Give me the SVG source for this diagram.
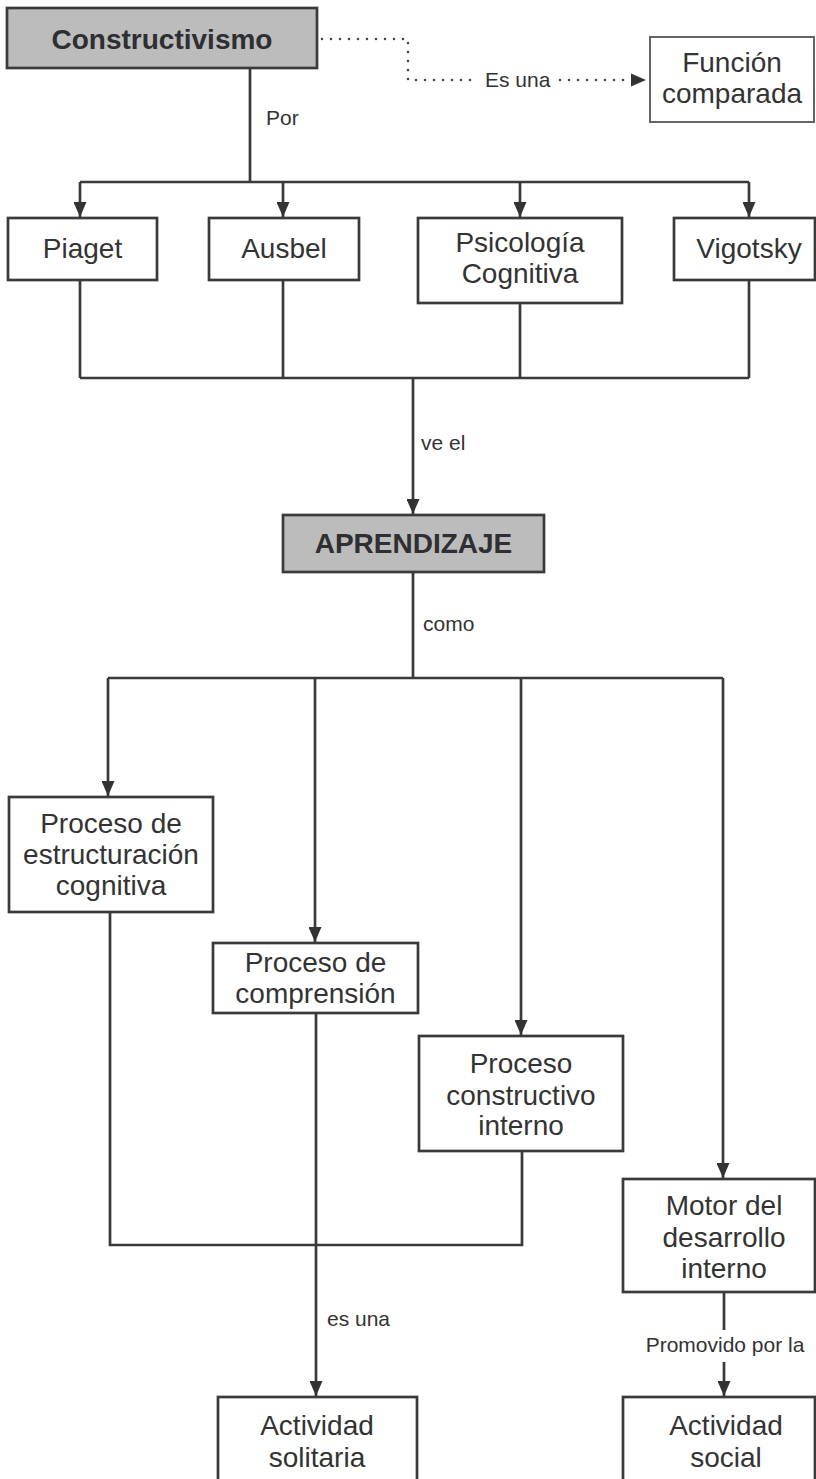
<svg xmlns="http://www.w3.org/2000/svg" width="816" height="1479" viewBox="0 0 816 1479">
<defs>
<style>
.box{fill:#ffffff;stroke:#3a3a3a;stroke-width:2.7}
.main{fill:#bcbcbc;stroke:#3a3a3a;stroke-width:2.7}
.thin{fill:#ffffff;stroke:#555555;stroke-width:1.8}
.t{font-family:"Liberation Sans",Arial,sans-serif;font-size:28px;fill:#333333;text-anchor:middle}
.b{font-weight:bold;fill:#2e2e33}
.lbl{font-family:"Liberation Sans",Arial,sans-serif;font-size:21px;fill:#333333}
.ln{fill:none;stroke:#3a3a3a;stroke-width:2.7}
.dot{fill:none;stroke:#444444;stroke-width:2.6;stroke-dasharray:0 9;stroke-linecap:round}
</style>
<marker id="ah" viewBox="0 0 15 13" refX="15" refY="6.5" markerWidth="15" markerHeight="13" markerUnits="userSpaceOnUse" orient="auto">
<path d="M0,0 L15,6.5 L0,13 z" fill="#333333"/>
</marker>
</defs>
<rect width="816" height="1479" fill="#ffffff"/>
<g id="connectors">
<path class="dot" d="M322,39 H408 V80 H478"/>
<path class="dot" d="M560,80 H632"/>
<path d="M631,73.5 L646,80 L631,86.5 z" fill="#333333"/>
<path class="ln" d="M250,68 V182"/>
<path class="ln" d="M80,182 H749"/>
<path class="ln" d="M80,182 V217" marker-end="url(#ah)"/>
<path class="ln" d="M283,182 V217" marker-end="url(#ah)"/>
<path class="ln" d="M520,182 V217" marker-end="url(#ah)"/>
<path class="ln" d="M749,182 V217" marker-end="url(#ah)"/>
<path class="ln" d="M80,280 V378"/>
<path class="ln" d="M283,280 V378"/>
<path class="ln" d="M520,303 V378"/>
<path class="ln" d="M749,280 V378"/>
<path class="ln" d="M80,378 H749"/>
<path class="ln" d="M413,378 V514" marker-end="url(#ah)"/>
<path class="ln" d="M413,572 V678"/>
<path class="ln" d="M108,678 H723"/>
<path class="ln" d="M108,678 V796" marker-end="url(#ah)"/>
<path class="ln" d="M315,678 V942" marker-end="url(#ah)"/>
<path class="ln" d="M521,678 V1035" marker-end="url(#ah)"/>
<path class="ln" d="M723,678 V1178" marker-end="url(#ah)"/>
<path class="ln" d="M110,912 V1245 H522 V1151"/>
<path class="ln" d="M316,1013 V1396" marker-end="url(#ah)"/>
<path class="ln" d="M724,1292 V1330"/>
<path class="ln" d="M724,1362 V1396" marker-end="url(#ah)"/>
<text class="lbl" x="266" y="125">Por</text>
<text class="lbl" x="485" y="87">Es una</text>
<text class="lbl" x="421" y="450">ve el</text>
<text class="lbl" x="423" y="631">como</text>
<text class="lbl" x="327" y="1326">es una</text>
<text class="lbl" x="725" y="1352" text-anchor="middle">Promovido por la</text>
</g>
<g id="constructivismo">
<rect class="main" x="7" y="8" width="310" height="60"/>
<text class="t b" x="162" y="49">Constructivismo</text>
</g>
<g id="funcion">
<rect class="thin" x="650" y="37" width="164" height="85"/>
<text class="t" x="732" y="72">Función</text>
<text class="t" x="732" y="103">comparada</text>
</g>
<g id="piaget">
<rect class="box" x="8" y="218" width="149" height="62"/>
<text class="t" x="82.5" y="258">Piaget</text>
</g>
<g id="ausbel">
<rect class="box" x="209" y="218" width="150" height="62"/>
<text class="t" x="284" y="258">Ausbel</text>
</g>
<g id="psicologia">
<rect class="box" x="418" y="218" width="204" height="85"/>
<text class="t" x="520" y="252">Psicología</text>
<text class="t" x="520" y="283">Cognitiva</text>
</g>
<g id="vigotsky">
<rect class="box" x="674" y="218" width="141" height="62"/>
<text class="t" x="749" y="258">Vigotsky</text>
</g>
<g id="aprendizaje">
<rect class="main" x="283" y="515" width="261" height="57"/>
<text class="t b" x="413.5" y="553">APRENDIZAJE</text>
</g>
<g id="estructuracion">
<rect class="box" x="9" y="797" width="204" height="115"/>
<text class="t" x="111" y="833">Proceso de</text>
<text class="t" x="111" y="864">estructuración</text>
<text class="t" x="111" y="895">cognitiva</text>
</g>
<g id="comprension">
<rect class="box" x="213" y="943" width="205" height="70"/>
<text class="t" x="315.5" y="972">Proceso de</text>
<text class="t" x="315.5" y="1003">comprensión</text>
</g>
<g id="constructivo">
<rect class="box" x="419" y="1036" width="204" height="115"/>
<text class="t" x="521" y="1073">Proceso</text>
<text class="t" x="521" y="1105">constructivo</text>
<text class="t" x="521" y="1135">interno</text>
</g>
<g id="motor">
<rect class="box" x="623" y="1179" width="192" height="113"/>
<text class="t" x="724" y="1215">Motor del</text>
<text class="t" x="724" y="1247">desarrollo</text>
<text class="t" x="724" y="1278">interno</text>
</g>
<g id="solitaria">
<rect class="box" x="218" y="1397" width="199" height="95"/>
<text class="t" x="317" y="1435">Actividad</text>
<text class="t" x="317" y="1467">solitaria</text>
</g>
<g id="social">
<rect class="box" x="623" y="1397" width="192" height="95"/>
<text class="t" x="726" y="1435">Actividad</text>
<text class="t" x="726" y="1467">social</text>
</g>
</svg>
